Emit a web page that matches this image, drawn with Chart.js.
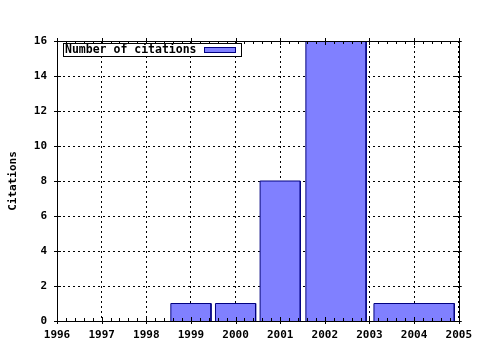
<!DOCTYPE html>
<html>
<head>
<meta charset="utf-8">
<script src="https://cdn.jsdelivr.net/npm/chart.js@4/dist/chart.umd.min.js"></script>
<style>
  html, body { margin: 0; padding: 0; background: #fff; }
  #wrap { width: 480px; height: 350px; }
</style>
</head>
<body>
<div id="wrap"><canvas id="chart" width="480" height="350"></canvas></div>
<script>
// data
var years = [1999, 2000, 2001, 2002, 2004];
var citations = [1, 1, 8, 16, 1];
var xTickLabels = [1996, 1997, 1998, 1999, 2000, 2001, 2002, 2003, 2004, 2005];
var yTickLabels = [0, 2, 4, 6, 8, 10, 12, 14, 16];
var seriesLabel = 'Number of citations';
var axisTitle = 'Citations';

var BOX_REL = 0.9;   // gnuplot "boxwidth 0.9 relative"
var FILL = '#8080ff';
var EDGE = '#000080';
var FONT = { family: 'DejaVu Sans Mono', size: 11, weight: 'bold' };

// boxes like gnuplot: each box spans half way to its neighbours, scaled
function boxOutline() {
    var pts = [];
    for (var i = 0; i < years.length; i++) {
        var l = i > 0 ? (years[i - 1] + years[i]) / 2 : years[i] - (years[i + 1] - years[i]) / 2;
        var r = i < years.length - 1 ? (years[i] + years[i + 1]) / 2 : years[i] + (years[i] - years[i - 1]) / 2;
        var c = (l + r) / 2, h = (r - l) / 2 * BOX_REL;
        pts.push({ x: c - h, y: 0 }, { x: c - h, y: citations[i] },
                 { x: c + h, y: citations[i] }, { x: c + h, y: 0 });
    }
    return pts;
}

// solid frame plus inward tics on all four sides, minor tics on x
var gnuplotTics = {
    id: 'gnuplotTics',
    afterDatasetsDraw: function (chart) {
        var ctx = chart.ctx, a = chart.chartArea, x = chart.scales.x, y = chart.scales.y;
        ctx.save();
        ctx.strokeStyle = '#000';
        ctx.lineWidth = 1;
        ctx.strokeRect(Math.round(a.left) + 0.5, Math.round(a.top) + 0.5,
                       Math.round(a.right - a.left), Math.round(a.bottom - a.top));
        ctx.beginPath();
        xTickLabels.forEach(function (v, k) {
            var px = Math.round(x.getPixelForValue(v)) + 0.5;
            ctx.moveTo(px, a.bottom + 3); ctx.lineTo(px, a.bottom - 4);
            ctx.moveTo(px, a.top - 3); ctx.lineTo(px, a.top + 4);
            if (k < xTickLabels.length - 1) {
                for (var m = 1; m < 5; m++) {
                    var mx = Math.round(x.getPixelForValue(v + m / 5)) + 0.5;
                    ctx.moveTo(mx, a.bottom); ctx.lineTo(mx, a.bottom - 3);
                    ctx.moveTo(mx, a.top); ctx.lineTo(mx, a.top + 3);
                }
            }
        });
        yTickLabels.forEach(function (v) {
            var py = Math.round(y.getPixelForValue(v)) + 0.5;
            ctx.moveTo(a.left - 3, py); ctx.lineTo(a.left + 4, py);
            ctx.moveTo(a.right + 3, py); ctx.lineTo(a.right - 4, py);
        });
        ctx.stroke();
        ctx.restore();
    },
    afterDraw: function (chart) {
        // boxed key in the top left corner, sample to the right of the text
        var ctx = chart.ctx, a = chart.chartArea;
        var ds = chart.data.datasets[0];
        var bx = a.left + 6.5, by = a.top + 2.5, bw = 178, bh = 13;
        ctx.save();
        ctx.fillStyle = '#fff';
        ctx.fillRect(bx, by, bw, bh);
        ctx.strokeStyle = '#000';
        ctx.lineWidth = 1;
        ctx.strokeRect(bx, by, bw, bh);
        ctx.font = 'bold 11.5px "DejaVu Sans Mono"';
        ctx.fillStyle = '#000';
        ctx.textBaseline = 'middle';
        ctx.fillText(ds.label, bx + 1.5, by + bh / 2 + 0.5);
        ctx.fillStyle = ds.backgroundColor;
        ctx.fillRect(bx + 141, by + 4, 31, 5);
        ctx.strokeStyle = ds.borderColor;
        ctx.strokeRect(bx + 141, by + 4, 31, 5);
        ctx.restore();
    }
};

var ctx = document.getElementById('chart').getContext('2d');
new Chart(ctx, {
    type: 'line',
    data: {
        datasets: [{
            label: seriesLabel,
            data: boxOutline(),
            backgroundColor: FILL,
            borderColor: EDGE,
            borderWidth: 1,
            fill: 'origin',
            pointRadius: 0,
            tension: 0,
            segment: {
                borderColor: function (c) {
                    return (c.p0.parsed.y === 0 && c.p1.parsed.y === 0) ? 'rgba(0,0,0,0)' : undefined;
                }
            }
        }]
    },
    options: {
        responsive: false,
        animation: false,
        events: [],
        layout: { padding: { top: 41, right: 21, left: 0, bottom: 0 } },
        plugins: {
            legend: { display: false },
            tooltip: { enabled: false }
        },
        scales: {
            x: {
                type: 'linear',
                min: xTickLabels[0],
                max: xTickLabels[xTickLabels.length - 1],
                afterBuildTicks: function (s) {
                    s.ticks = xTickLabels.map(function (v) { return { value: v }; });
                },
                afterFit: function (s) { s.height = 29; },
                ticks: {
                    color: '#000',
                    font: FONT,
                    padding: 8,
                    maxRotation: 0,
                    autoSkip: false,
                    callback: function (v) { return String(v); }
                },
                grid: { color: '#000', lineWidth: 1, drawTicks: false },
                border: { color: '#000', width: 1, dash: [2, 3] }
            },
            y: {
                min: yTickLabels[0],
                max: yTickLabels[yTickLabels.length - 1],
                afterBuildTicks: function (s) {
                    s.ticks = yTickLabels.map(function (v) { return { value: v }; });
                },
                afterFit: function (s) { s.width = 57; },
                ticks: {
                    color: '#000',
                    font: FONT,
                    padding: 10,
                    autoSkip: false,
                    callback: function (v) { return String(v); }
                },
                grid: { color: '#000', lineWidth: 1, drawTicks: false },
                border: { color: '#000', width: 1, dash: [2, 3] },
                title: {
                    display: true,
                    text: axisTitle,
                    color: '#000',
                    font: FONT,
                    padding: { top: 7, bottom: 0 }
                }
            }
        }
    },
    plugins: [gnuplotTics]
});
</script>
</body>
</html>
